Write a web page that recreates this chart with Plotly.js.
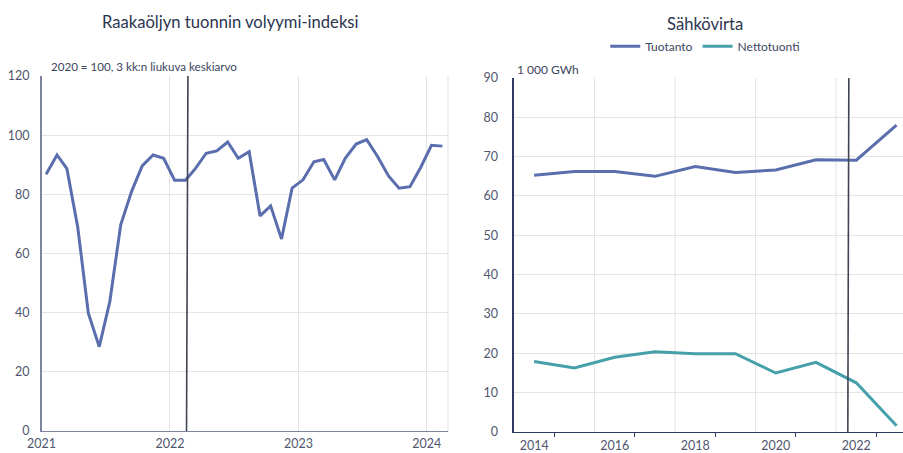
<!DOCTYPE html>
<html>
<head>
<meta charset="utf-8">
<script src="https://cdn.plot.ly/plotly-3.0.1.min.js"></script>
<style>html,body{margin:0;padding:0;background:#fff;}#chart{width:903px;height:453px;}</style>
</head>
<body>
<div id="chart"></div>
<script>
// Left chart: crude oil import volume index (2020 = 100, 3-month moving average)
const oilMonths = [
  '2021-01-14','2021-02-14','2021-03-14','2021-04-14','2021-05-14','2021-06-14',
  '2021-07-14','2021-08-14','2021-09-14','2021-10-14','2021-11-14','2021-12-14',
  '2022-01-14','2022-02-14','2022-03-14','2022-04-14','2022-05-14','2022-06-14',
  '2022-07-14','2022-08-14','2022-09-14','2022-10-14','2022-11-14','2022-12-14',
  '2023-01-14','2023-02-14','2023-03-14','2023-04-14','2023-05-14','2023-06-14',
  '2023-07-14','2023-08-14','2023-09-14','2023-10-14','2023-11-14','2023-12-14',
  '2024-01-14','2024-02-14'
];
const oilIndex = [
  86.8, 93.3, 88.7, 68.8, 39.8, 28.5, 43.7, 69.7, 81.0, 89.6, 93.3, 92.2,
  84.8, 84.8, 88.7, 93.9, 94.7, 97.7, 92.2, 94.4, 72.7, 76.1, 64.9, 82.1,
  84.9, 91.0, 91.8, 84.9, 92.2, 97.0, 98.5, 92.8, 86.2, 82.1, 82.6, 89.0,
  96.6, 96.3
];
const oilYearTicks = ['2021-01-01','2022-01-01','2023-01-01','2024-01-01'];
const oilYearLabels = ['2021','2022','2023','2024'];

// Right chart: electricity flow, 1 000 GWh
const powerYears = [2014, 2015, 2016, 2017, 2018, 2019, 2020, 2021, 2022, 2023];
const production = [65.3, 66.2, 66.2, 65.0, 67.5, 66.0, 66.6, 69.2, 69.1, 78.0];
const netImports = [17.9, 16.3, 19.0, 20.4, 19.9, 19.9, 15.0, 17.7, 12.5, 1.6];
const powerTickVals = [2014, 2016, 2018, 2020, 2022];
const powerTickText = ['2014', '2016', '2018', '2020', '2022'];
const powerGridVals = [2015.5, 2017.5, 2019.5, 2021.5];

const FONT = 'Lato, "Open Sans", sans-serif';
const tickColor = '#4f566e';
const gridColor = '#e4e4e4';

const traces = [
  {
    x: oilMonths, y: oilIndex, type: 'scatter', mode: 'lines',
    line: {color: '#5a6eae', width: 3}, xaxis: 'x', yaxis: 'y',
    showlegend: false, hoverinfo: 'x+y'
  },
  {
    x: powerYears, y: production, type: 'scatter', mode: 'lines', name: 'Tuotanto',
    line: {color: '#5a6eae', width: 3}, xaxis: 'x2', yaxis: 'y2'
  },
  {
    x: powerYears, y: netImports, type: 'scatter', mode: 'lines', name: 'Nettotuonti',
    line: {color: '#45a0a9', width: 3}, xaxis: 'x2', yaxis: 'y2'
  }
];

const shapes = [
  // right boundary line of left plot
  {type: 'line', xref: 'x domain', yref: 'y domain', x0: 1, x1: 1, y0: 0, y1: 1,
   line: {color: gridColor, width: 1}, layer: 'below'},
  // dark vertical marker line, left chart
  {type: 'line', xref: 'x', yref: 'y', x0: '2022-02-17', x1: '2022-02-21', y0: 0, y1: 120,
   line: {color: '#3e4452', width: 1.6}},
  // dark vertical marker line, right chart
  {type: 'line', xref: 'x2', yref: 'y2', x0: 2021.79, x1: 2021.815, y0: 0, y1: 90,
   line: {color: '#3e4452', width: 1.6}}
];
powerGridVals.forEach(v => shapes.push({
  type: 'line', xref: 'x2', yref: 'y2 domain', x0: v, x1: v, y0: 0, y1: 1,
  line: {color: gridColor, width: 1}, layer: 'below'
}));

const layout = {
  width: 903, height: 453,
  margin: {l: 0, r: 0, t: 0, b: 0},
  paper_bgcolor: '#ffffff', plot_bgcolor: '#ffffff',
  font: {family: FONT, color: tickColor, size: 13},
  showlegend: true,
  legend: {
    orientation: 'h', x: 0.781, xanchor: 'center', y: 0.898, yanchor: 'middle',
    font: {family: FONT, size: 12, color: '#3c4660'},
    itemwidth: 30, tracegroupgap: 0, bgcolor: 'rgba(0,0,0,0)'
  },
  xaxis: {
    domain: [0.046, 0.4961], anchor: 'y', type: 'date',
    range: ['2021-01-01', '2024-03-01'],
    tickmode: 'array', tickvals: oilYearTicks, ticktext: oilYearLabels,
    showgrid: true, gridcolor: gridColor, gridwidth: 1,
    showline: true, linecolor: '#7d84a0', linewidth: 1.5,
    ticks: '', zeroline: false, ticklabelstandoff: 1,
    tickfont: {family: FONT, size: 12.5, color: tickColor}, fixedrange: true
  },
  yaxis: {
    domain: [0.0486, 0.8322], anchor: 'x',
    range: [0, 120], tickmode: 'linear', tick0: 0, dtick: 20,
    showgrid: true, gridcolor: gridColor, gridwidth: 1,
    showline: true, linecolor: '#7d84a0', linewidth: 1.5,
    ticks: '', zeroline: false, ticklabelstandoff: 8,
    tickfont: {family: FONT, size: 12.5, color: tickColor}, fixedrange: true
  },
  xaxis2: {
    domain: [0.5692, 1], anchor: 'y2',
    range: [2013.5, 2023.16],
    tickmode: 'array', tickvals: powerTickVals, ticktext: powerTickText,
    showgrid: false, ticks: '',
    minor: {tickmode: 'linear', tick0: 2014.5, dtick: 2, ticks: 'outside', ticklen: 4,
            tickcolor: '#2f3a62', tickwidth: 1, showgrid: false},
    showline: true, linecolor: '#2f3a62', linewidth: 1.5,
    zeroline: false, ticklabelstandoff: 2,
    tickfont: {family: FONT, size: 12.5, color: tickColor}, fixedrange: true
  },
  yaxis2: {
    domain: [0.0464, 0.8278], anchor: 'x2',
    range: [0, 90], tickmode: 'linear', tick0: 0, dtick: 10,
    showgrid: true, gridcolor: gridColor, gridwidth: 1,
    showline: true, linecolor: '#2f3a62', linewidth: 1.5,
    ticks: '', zeroline: false, ticklabelstandoff: 12,
    tickfont: {family: FONT, size: 12.5, color: tickColor}, fixedrange: true
  },
  shapes: shapes,
  annotations: [
    {text: 'Raakaöljyn tuonnin volyymi-indeksi', xref: 'paper', yref: 'paper',
     x: 230 / 903, y: 1 - 22 / 453, xanchor: 'center', yanchor: 'middle', showarrow: false,
     font: {family: FONT, size: 16.6, color: '#2c3550'}},
    {text: 'Sähkövirta', xref: 'paper', yref: 'paper',
     x: 705 / 903, y: 1 - 24 / 453, xanchor: 'center', yanchor: 'middle', showarrow: false,
     font: {family: FONT, size: 16.6, color: '#2c3550'}},
    {text: '2020 = 100, 3 kk:n liukuva keskiarvo', xref: 'paper', yref: 'paper',
     x: 49 / 903, y: 1 - 67 / 453, xanchor: 'left', yanchor: 'middle', showarrow: false,
     font: {family: FONT, size: 11.6, color: '#3c4660'}},
    {text: '1 000 GWh', xref: 'paper', yref: 'paper',
     x: 515 / 903, y: 1 - 69 / 453, xanchor: 'left', yanchor: 'middle', showarrow: false,
     font: {family: FONT, size: 12, color: '#3c4660'}}
  ]
};

Plotly.newPlot('chart', traces, layout, {displayModeBar: false, staticPlot: true});
</script>
</body>
</html>
